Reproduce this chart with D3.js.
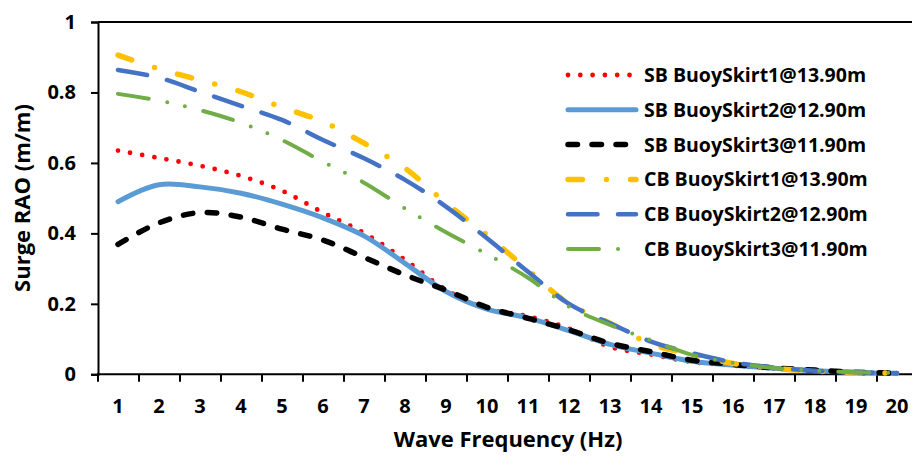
<!DOCTYPE html>
<html><head><meta charset="utf-8">
<script src="https://cdn.jsdelivr.net/npm/d3@7"></script>
<style>
html,body{margin:0;padding:0;background:#fff;}
svg{display:block;font-family:"Open Sans",Lato,sans-serif;font-weight:bold;}
</style></head>
<body>
<svg id="chart" width="912" height="456"></svg>
<script>
// ---- data ----
const categories = ["1","2","3","4","5","6","7","8","9","10","11","12","13","14","15","16","17","18","19","20"];
const seriesNames = ["SB BuoySkirt1@13.90m","SB BuoySkirt2@12.90m","SB BuoySkirt3@11.90m","CB BuoySkirt1@13.90m","CB BuoySkirt2@12.90m","CB BuoySkirt3@11.90m"];
const sb1 = [0.635,0.614,0.592,0.563,0.521,0.459,0.401,0.325,0.240,0.186,0.165,0.130,0.078,0.056,0.035,0.025,0.016,0.010,0.005,0.003];
const sb2 = [0.490,0.538,0.532,0.514,0.483,0.444,0.393,0.315,0.235,0.185,0.160,0.124,0.085,0.060,0.037,0.026,0.017,0.010,0.005,0.003];
const sb3 = [0.369,0.430,0.459,0.446,0.412,0.381,0.332,0.282,0.239,0.190,0.159,0.126,0.088,0.064,0.040,0.028,0.018,0.012,0.006,0.003];
const cb1 = [0.906,0.867,0.835,0.802,0.758,0.717,0.656,0.585,0.486,0.395,0.296,0.200,0.145,0.086,0.057,0.031,0.017,0.009,0.005,0.003];
const cb2 = [0.864,0.842,0.802,0.762,0.722,0.665,0.613,0.552,0.476,0.386,0.291,0.200,0.145,0.093,0.060,0.034,0.019,0.010,0.006,0.003];
const cb3 = [0.796,0.777,0.750,0.714,0.665,0.603,0.544,0.471,0.403,0.341,0.274,0.192,0.140,0.097,0.055,0.033,0.018,0.010,0.006,0.004];
const yTicks = [0,0.2,0.4,0.6,0.8,1];
const yTickLabels = ["0","0.2","0.4","0.6","0.8","1"];
const xTitle = "Wave Frequency (Hz)";
const yTitle = "Surge RAO (m/m)";

// ---- styles ----
const FONT = "Open Sans";
const styles = [
  {color:"#FF0000", width:4.8, dash:"0 12.3"},
  {color:"#5B9BD5", width:5,   dash:null},
  {color:"#000000", width:5.5, dash:"9.5 14.5"},
  {color:"#FFC000", width:5.5, dash:"14.5 24 0 24"},
  {color:"#4472C4", width:4.5, dash:"29.5 20.5"},
  {color:"#70AD47", width:4,   dash:"31 19 0 18 0 19"}
];
const allSeries = [sb1,sb2,sb3,cb1,cb2,cb3];

const svg = d3.select("#chart");
const pLeft = 98, pRight = 918, pTop = 22, pBottom = 374.3;

const x = d3.scaleBand().domain(categories).range([pLeft - 0.5, pRight - 0.5]).padding(0);
const y = d3.scaleLinear().domain([0,1]).range([pBottom, pTop]);
const cx = c => x(c) + x.bandwidth()/2;

// frame top line
svg.append("line").attr("x1",pLeft).attr("x2",912).attr("y1",pTop).attr("y2",pTop)
  .attr("stroke","#000").attr("stroke-width",2);

// y axis
const yAxis = svg.append("g").attr("transform",`translate(${pLeft},0)`)
  .call(d3.axisLeft(y).tickValues(yTicks).tickFormat((d,i)=>yTickLabels[i]).tickSize(7).tickPadding(15));
yAxis.select(".domain").attr("stroke","#000").attr("stroke-width",2);
yAxis.selectAll(".tick line").attr("stroke","#000").attr("stroke-width",2);
yAxis.selectAll(".tick text").attr("font-size",20).attr("font-family",FONT).attr("font-weight","bold").attr("fill","#000");

// x axis (labels at centers, ticks at band edges)
const xAxis = svg.append("g").attr("transform",`translate(0,${pBottom})`)
  .call(d3.axisBottom(x).tickSize(0).tickPadding(24.5));
xAxis.select(".domain").remove();
xAxis.selectAll(".tick text").attr("font-size",20).attr("font-family",FONT).attr("font-weight","bold").attr("fill","#000");
svg.append("line").attr("x1",pLeft-1).attr("x2",912).attr("y1",pBottom).attr("y2",pBottom)
  .attr("stroke","#000").attr("stroke-width",2);
svg.append("g").selectAll("line").data(categories).join("line")
  .attr("x1",d=>x(d)+0.5).attr("x2",d=>x(d)+0.5).attr("y1",pBottom).attr("y2",pBottom+7.5)
  .attr("stroke","#000").attr("stroke-width",2);

// titles
svg.append("text").attr("x",508).attr("y",447).attr("text-anchor","middle")
  .attr("font-size",22).attr("font-family",FONT).attr("font-weight","bold").text(xTitle);
svg.append("text").attr("transform","translate(30,198) rotate(-90)").attr("text-anchor","middle")
  .attr("font-size",22).attr("font-family",FONT).attr("font-weight","bold").text(yTitle);

// lines
const line = d3.line().x((d,i)=>cx(categories[i])).y(d=>y(d)).curve(d3.curveCatmullRom.alpha(0.5));
allSeries.forEach((s,k)=>{
  const st = styles[k];
  svg.append("path").datum(s).attr("d",line).attr("fill","none")
    .attr("stroke",st.color).attr("stroke-width",st.width)
    .attr("stroke-linecap","round").attr("stroke-linejoin","round")
    .attr("stroke-dasharray",st.dash);
});

// legend
const legY0 = 75, legDy = 34.8;
const leg = svg.append("g");
seriesNames.forEach((name,k)=>{
  const st = styles[k];
  const yy = legY0 + k*legDy;
  leg.append("line").attr("x1",568).attr("x2",636).attr("y1",yy).attr("y2",yy)
    .attr("stroke",st.color).attr("stroke-width",st.width)
    .attr("stroke-linecap","round").attr("stroke-dasharray",st.dash);
  leg.append("text").attr("x",644).attr("y",yy).attr("dy","0.36em")
    .attr("font-size",19.5).attr("font-family",FONT).attr("font-weight","bold").text(name);
});
</script>
</body></html>
